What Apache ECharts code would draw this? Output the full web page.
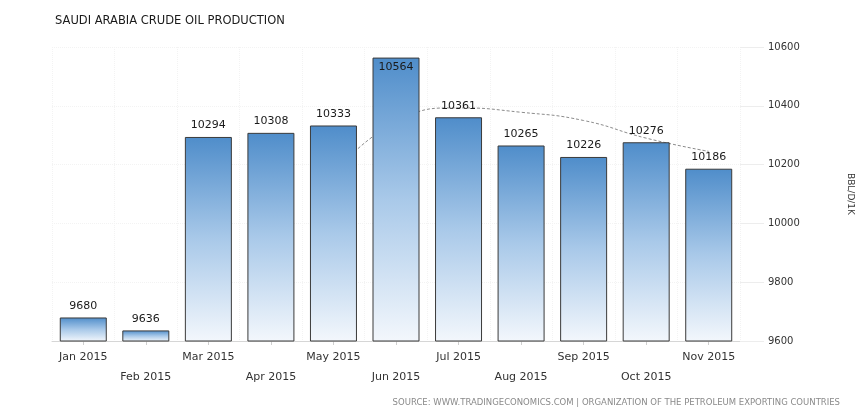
<!DOCTYPE html>
<html><head><meta charset="utf-8">
<script src="https://cdn.jsdelivr.net/npm/echarts@6/dist/echarts.min.js"></script>
<style>html,body{margin:0;padding:0;background:#fff}#c{width:863px;height:412px}</style>
</head><body><div id="c"></div>
<script>
const categories = ['Jan 2015','Feb 2015','Mar 2015','Apr 2015','May 2015','Jun 2015','Jul 2015','Aug 2015','Sep 2015','Oct 2015','Nov 2015'];
const production = [9680, 9636, 10294, 10308, 10333, 10564, 10361, 10265, 10226, 10276, 10186];
const trend = [null, null, null, null, 10170, 10345, 10393, 10378, 10350, 10290, 10245];
const yTickValues = [9600, 9800, 10000, 10200, 10400, 10600];
const titleText = 'SAUDI ARABIA CRUDE OIL PRODUCTION';
const sourceText = 'SOURCE: WWW.TRADINGECONOMICS.COM | ORGANIZATION OF THE PETROLEUM EXPORTING COUNTRIES';
const unitText = 'BBL/D/1K';

const FONT = 'DejaVu Sans';
const maxVal = Math.max(...production);
const chart = echarts.init(document.getElementById('c'), null, {renderer: 'canvas'});
chart.setOption({
  animation: false,
  backgroundColor: '#fff',
  title: {
    text: titleText, left: 50, top: 10,
    textStyle: {fontFamily: FONT, fontSize: 11.5, fontWeight: 'normal', color: '#1a1a1a'}
  },
  graphic: [{
    type: 'text', right: 23, top: 398,
    style: {text: sourceText, fontFamily: FONT, fontSize: 8.5, fill: '#8a8a8a'}
  }],
  grid: {left: 52, right: 118, top: 47, bottom: 71},
  xAxis: {
    type: 'category', data: categories,
    axisLine: {show: true, lineStyle: {color: '#d6d6d6'}},
    axisTick: {show: true, alignWithLabel: true, length: 4, lineStyle: {color: '#cfcfcf'}},
    splitLine: {show: true, lineStyle: {color: '#f3f3f3', type: 'dotted'}},
    axisLabel: {
      interval: 0, margin: 6, fontFamily: FONT, fontSize: 11, color: '#333', lineHeight: 20,
      formatter: (v, i) => (i % 2 === 1 ? '\n' + v : v)
    }
  },
  yAxis: {
    type: 'value', position: 'right',
    min: yTickValues[0], max: yTickValues[yTickValues.length - 1],
    interval: yTickValues[1] - yTickValues[0],
    name: unitText, nameLocation: 'middle', nameRotate: -90, nameGap: 106,
    nameTextStyle: {fontFamily: FONT, fontSize: 9, color: '#333'},
    axisLine: {show: false},
    axisTick: {show: true, length: 24, lineStyle: {color: '#ededed'}},
    splitLine: {show: true, lineStyle: {color: '#f3f3f3', type: 'dotted'}},
    axisLabel: {margin: 28, fontFamily: FONT, fontSize: 10, color: '#333', formatter: v => String(v)}
  },
  series: [
    {
      type: 'line', data: trend, smooth: true, symbol: 'none', z: 1,
      lineStyle: {color: '#8c8c8c', width: 1, type: [3, 2]}
    },
    {
      type: 'bar', z: 2, barWidth: 47,
      data: production.map(v => v === maxVal ? {value: v, label: {position: 'insideTop', distance: 4}} : v),
      itemStyle: {
        borderColor: '#3a3a3a', borderWidth: 1,
        color: new echarts.graphic.LinearGradient(0, 0, 0, 1, [
          {offset: 0, color: '#4f8dca'},
          {offset: 0.5, color: '#a9c9e9'},
          {offset: 1, color: '#f3f7fc'}
        ])
      },
      label: {show: true, position: 'top', distance: 6, fontFamily: FONT, fontSize: 11, color: '#1a1a1a'}
    }
  ]
});
</script></body></html>
